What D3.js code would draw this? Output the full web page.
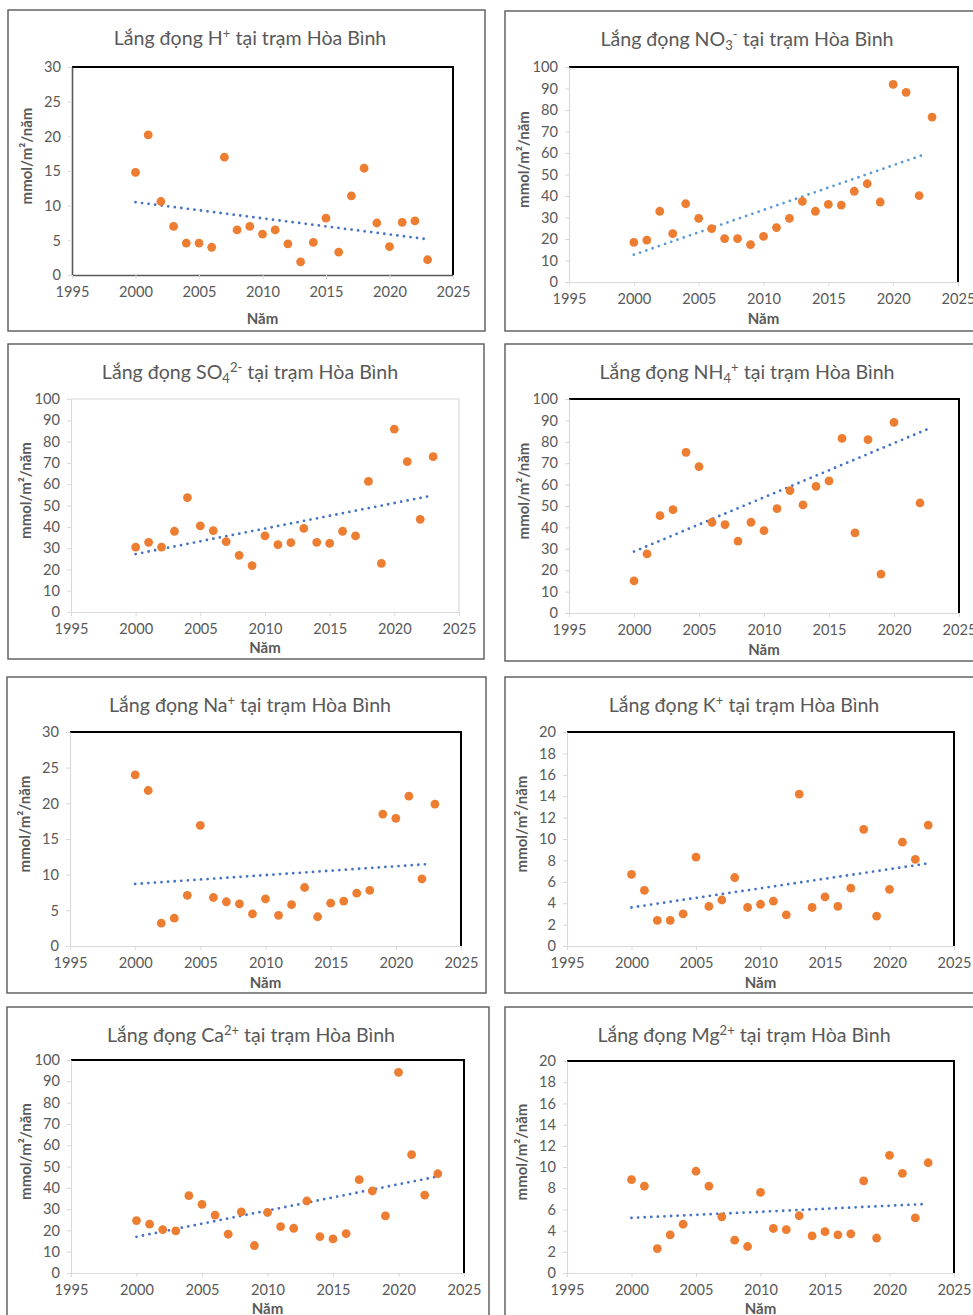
<!DOCTYPE html>
<html lang="vi">
<head>
    <meta charset="UTF-8">
    <script src="https://cdn.jsdelivr.net/npm/d3@7"></script>
    <title>Lắng đọng tại trạm Hòa Bình</title>
    <style>
        body { margin: 0; background: white; }
        svg { display: block; font-family: Lato, "Open Sans", sans-serif; }
        .tick text { fill: #595959; font-size: 14.6px; font-family: Lato, "Open Sans", sans-serif; }
    </style>
</head>
<body>
<div id="chart"></div>
<script>
    // Years (x values)
    const years = [2000, 2001, 2002, 2003, 2004, 2005, 2006, 2007, 2008, 2009, 2010, 2011,
                   2012, 2013, 2014, 2015, 2016, 2017, 2018, 2019, 2020, 2021, 2022, 2023];

    // Deposition, mmol/m2/year
    const hPlus = [14.8, 20.2, 10.6, 7.0, 4.6, 4.6, 4.0, 17.0, 6.5, 7.0, 5.9, 6.5, 4.5, 1.9, 4.7, 8.2, 3.3, 11.4, 15.4, 7.5, 4.1, 7.6, 7.8, 2.2];
    const no3 = [18.4, 19.5, 32.9, 22.5, 36.4, 29.6, 24.8, 20.2, 20.2, 17.4, 21.2, 25.3, 29.6, 37.5, 32.9, 36.1, 35.8, 42.2, 45.7, 37.2, 91.9, 88.2, 40.2, 76.7];
    const so4 = [30.5, 32.7, 30.5, 37.9, 53.7, 40.4, 38.2, 33.0, 26.6, 21.8, 35.7, 31.6, 32.6, 39.3, 32.7, 32.2, 37.9, 35.7, 61.3, 22.8, 85.9, 70.6, 43.5, 72.9];
    const nh4 = [15.0, 27.6, 45.5, 48.3, 75.1, 68.4, 42.4, 41.3, 33.6, 42.4, 38.5, 48.8, 57.2, 50.5, 59.2, 61.7, 81.6, 37.4, 81.0, 18.2, 89.1, null, 51.4, null];
    const na = [24.0, 21.8, 3.2, 3.9, 7.1, 16.9, 6.8, 6.2, 5.9, 4.5, 6.6, 4.3, 5.8, 8.2, 4.1, 6.0, 6.3, 7.4, 7.8, 18.5, 17.9, 21.0, 9.4, 19.9];
    const kPlus = [6.7, 5.2, 2.4, 2.4, 3.0, 8.3, 3.7, 4.3, 6.4, 3.6, 3.9, 4.2, 2.9, 14.2, 3.6, 4.6, 3.7, 5.4, 10.9, 2.8, 5.3, 9.7, 8.1, 11.3];
    const ca = [24.6, 22.9, 20.4, 19.8, 36.3, 32.2, 27.2, 18.2, 28.7, 12.9, 28.4, 21.8, 21.0, 33.8, 17.1, 16.0, 18.5, 43.8, 38.5, 26.8, 94.2, 55.6, 36.6, 46.6];
    const mg = [8.8, 8.2, 2.3, 3.6, 4.6, 9.6, 8.2, 5.3, 3.1, 2.5, 7.6, 4.2, 4.1, 5.4, 3.5, 3.9, 3.6, 3.7, 8.7, 3.3, 11.1, 9.4, 5.2, 10.4];

    // Linear trend end points [year, value] as drawn
    const hTrend = [[2000, 10.5], [2022.8, 5.2]];
    const no3Trend = [[2000, 12.7], [2022.6, 59.7]];
    const so4Trend = [[2000, 27.2], [2022.8, 54.5]];
    const nh4Trend = [[2000, 28.7], [2022.5, 85.7]];
    const naTrend = [[2000, 8.7], [2022.6, 11.5]];
    const kTrend = [[2000, 3.6], [2022.9, 7.7]];
    const caTrend = [[2000, 17.0], [2022.9, 45.2]];
    const mgTrend = [[2000, 5.2], [2022.7, 6.5]];

    const xTicks = [1995, 2000, 2005, 2010, 2015, 2020, 2025];

    // ion label pieces: [text, kind]  kind: n=normal, sub, sup
    const panels = [
        { ion: [["H", "n"], ["+", "sup"]], values: hPlus, trend: hTrend, yMax: 30, yStep: 5,
          box: [8, 10, 477, 321], plot: [72, 67, 453, 275], titleX: 250, namOff: 44, frame: "#000", axis: "#595959", trendColor: "#4472C4" },
        { ion: [["NO", "n"], ["3", "sub"], ["-", "sup"]], values: no3, trend: no3Trend, yMax: 100, yStep: 10,
          box: [505, 11, 480, 320], plot: [569, 67, 958, 282], titleX: 747, namOff: 37, frame: "#000", axis: "#D9D9D9", trendColor: "#5B9BD5" },
        { ion: [["SO", "n"], ["4", "sub"], ["2-", "sup"]], values: so4, trend: so4Trend, yMax: 100, yStep: 10,
          box: [8, 344, 476, 315], plot: [71, 399, 459, 612], titleX: 250, namOff: 36, frame: "#D9D9D9", axis: "#D9D9D9", trendColor: "#4472C4" },
        { ion: [["NH", "n"], ["4", "sub"], ["+", "sup"]], values: nh4, trend: nh4Trend, yMax: 100, yStep: 10,
          box: [505, 344, 480, 317], plot: [569, 399, 959, 613], titleX: 747, namOff: 37, frame: "#000", axis: "#D9D9D9", trendColor: "#4472C4" },
        { ion: [["Na", "n"], ["+", "sup"]], values: na, trend: naTrend, yMax: 30, yStep: 5,
          box: [7, 677, 479, 316], plot: [70, 732, 461, 946], titleX: 250, namOff: 37, frame: "#000", axis: "#D9D9D9", trendColor: "#4472C4" },
        { ion: [["K", "n"], ["+", "sup"]], values: kPlus, trend: kTrend, yMax: 20, yStep: 2,
          box: [505, 677, 480, 316], plot: [567, 732, 954, 946], titleX: 744, namOff: 37, frame: "#000", axis: "#D9D9D9", trendColor: "#4472C4" },
        { ion: [["Ca", "n"], ["2+", "sup"]], values: ca, trend: caTrend, yMax: 100, yStep: 10,
          box: [7, 1007, 482, 330], plot: [71, 1060, 464, 1273], titleX: 251, namOff: 36, frame: "#000", axis: "#D9D9D9", trendColor: "#4472C4" },
        { ion: [["Mg", "n"], ["2+", "sup"]], values: mg, trend: mgTrend, yMax: 20, yStep: 2,
          box: [505, 1007, 480, 330], plot: [567, 1061, 954, 1273], titleX: 744, namOff: 36, frame: "#000", axis: "#D9D9D9", trendColor: "#4472C4" }
    ];

    const svg = d3.select("#chart").append("svg")
        .attr("width", 973)
        .attr("height", 1315);

    panels.forEach(p => {
        const [bx, by, bw, bh] = p.box;
        const [x0, y0, x1, y1] = p.plot;
        const g = svg.append("g");

        // chart area border
        g.append("rect")
            .attr("x", bx).attr("y", by).attr("width", bw).attr("height", bh)
            .attr("fill", "white").attr("stroke", "#595959").attr("stroke-width", 1.4);

        const x = d3.scaleLinear().domain([1995, 2025]).range([x0, x1]);
        const y = d3.scaleLinear().domain([0, p.yMax]).range([y1, y0]);

        // top / right frame of the plot area
        g.append("path")
            .attr("d", `M${x0},${y0}H${x1}V${y1}`)
            .attr("fill", "none")
            .attr("stroke", p.frame)
            .attr("stroke-width", p.frame === "#000" ? 2 : 1.2);

        // y axis
        const yAxis = g.append("g")
            .attr("transform", `translate(${x0},0)`)
            .call(d3.axisLeft(y).tickValues(d3.range(0, p.yMax + 0.001, p.yStep)).tickSize(4).tickSizeOuter(0).tickPadding(7));
        yAxis.select(".domain").attr("stroke", p.axis).attr("stroke-width", p.axis === "#595959" ? 1.6 : 1.2);
        yAxis.selectAll(".tick line").attr("stroke", "#D9D9D9");

        // x axis
        const xAxis = g.append("g")
            .attr("transform", `translate(0,${y1})`)
            .call(d3.axisBottom(x).tickValues(xTicks).tickFormat(d3.format("d")).tickSize(4).tickSizeOuter(0).tickPadding(8));
        xAxis.select(".domain").attr("stroke", p.axis).attr("stroke-width", p.axis === "#595959" ? 1.6 : 1.2);
        xAxis.selectAll(".tick line").attr("stroke", "#D9D9D9");

        // title
        const title = g.append("text")
            .attr("x", p.titleX)
            .attr("y", by + 35)
            .attr("text-anchor", "middle")
            .attr("fill", "#595959")
            .attr("font-size", 19.6);
        title.append("tspan").text("Lắng đọng ");
        let shift = 0;
        p.ion.forEach(([t, kind]) => {
            let target = 0, size = 19.6;
            if (kind === "sup") { target = -7; size = 13; }
            if (kind === "sub") { target = 4; size = 13; }
            title.append("tspan").attr("dy", target - shift).attr("font-size", size).text(t);
            shift = target;
        });
        title.append("tspan").attr("dy", -shift).text(" tại trạm Hòa Bình");

        // axis titles
        g.append("text")
            .attr("transform", `translate(${x0 - 40},${(y0 + y1) / 2 - 15}) rotate(-90)`)
            .attr("text-anchor", "middle")
            .attr("fill", "#595959")
            .attr("font-weight", "bold")
            .attr("font-size", 15)
            .text("mmol/m²/năm");

        g.append("text")
            .attr("x", (x0 + x1) / 2)
            .attr("y", y1 + p.namOff + 5)
            .attr("text-anchor", "middle")
            .attr("fill", "#595959")
            .attr("font-weight", "bold")
            .attr("font-size", 15)
            .text("Năm");

        // trend line (dotted)
        g.append("line")
            .attr("x1", x(p.trend[0][0])).attr("y1", y(p.trend[0][1]))
            .attr("x2", x(p.trend[1][0])).attr("y2", y(p.trend[1][1]))
            .attr("stroke", p.trendColor)
            .attr("stroke-width", 2.8)
            .attr("stroke-linecap", "round")
            .attr("stroke-dasharray", "0 6.6");

        // points
        const pts = years.map((yr, i) => ({ yr, v: p.values[i] })).filter(d => d.v != null);
        g.selectAll("circle.pt")
            .data(pts)
            .enter()
            .append("circle")
            .attr("class", "pt")
            .attr("cx", d => x(d.yr))
            .attr("cy", d => y(d.v))
            .attr("r", 4.4)
            .attr("fill", "#ED7D31");
    });
</script>
</body>
</html>
